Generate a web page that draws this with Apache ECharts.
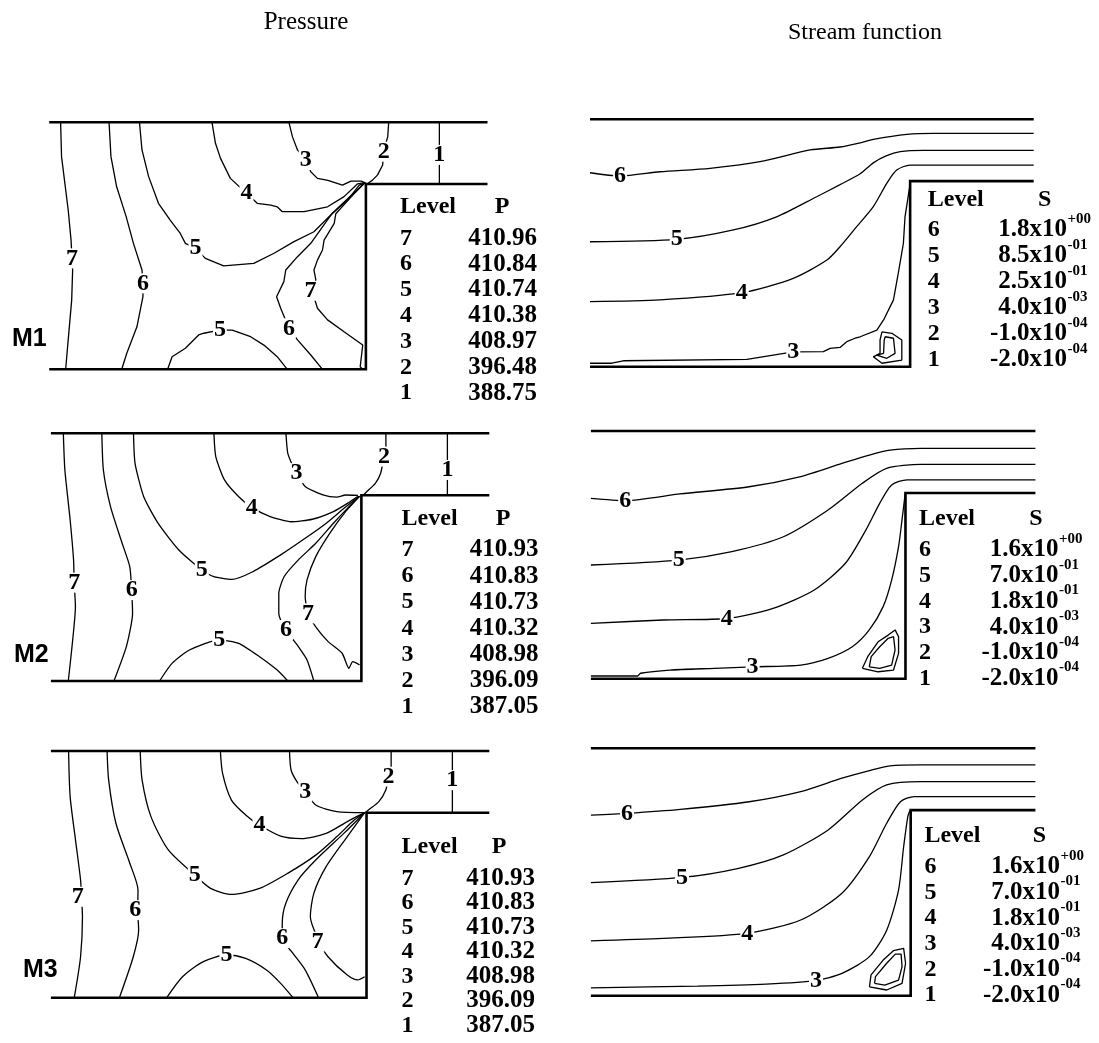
<!DOCTYPE html>
<html><head><meta charset="utf-8">
<script src="https://cdn.jsdelivr.net/npm/echarts@6/dist/echarts.min.js"></script>
<style>html,body{margin:0;padding:0;background:#fff}#c{width:1099px;height:1043px}</style>
</head><body><div id="c"></div>
<script>
// ---------- geometry (data units: inlet length = 100, inlet height = 100) ----------
const STEP_X = 100, STEP_Y = 75, TOP_Y = 100;
const P_XEND = [138.4, 141.2, 138.9];
const S_XEND = [138.6, 141.3, 139.0];

// ---------- Pressure, M1 ----------
const P1_c7a = [[3.6,100],[3.9,86.1],[6.0,64.5],[6.9,52.3],[7.2,44.9],[7.4,40.2],[7.1,28],[6.0,11.9],[5.2,0]];
const P1_c6a = [[18.9,100],[19.5,86.1],[21.3,73.9],[24.3,61.8],[26.6,51],[29.3,40.2],[29.6,34.8],[29.6,29.4],[27.7,17.2],[24.5,6.5],[22.9,0]];
const P1_c5a = [[28.5,100],[29.3,88.8],[31.4,78],[34.5,67.2],[38.2,60.4],[41.4,55],[43,51],[46.2,49],[49.3,44.9],[55.1,41.9],[64.6,42.9],[71,47],[77.3,51.7],[83.6,55.7],[88.9,62.5],[94.2,68.5],[97.9,74.6],[99.6,75.4]];
const P1_c4 = [[51.4,100],[52.5,91.5],[54.1,85.4],[57.2,77.3],[62.3,71.3],[65.7,67.2],[70,66.5],[72,65.8],[73.6,63.8],[80.5,63.8],[87.9,65.8],[93.1,69.9],[97.4,75.1],[99.6,75.6]];
const P1_c3 = [[75.7,100],[76.8,94.2],[78.4,88.8],[81,84.7],[82.6,80],[84.7,77.3],[88,76.5],[92.6,74.6],[95.3,76.2],[98.5,76.2],[100,75.4]];
const P1_c2 = [[107.2,100],[106.9,94.2],[105.6,88.1],[105.3,82.7],[103.7,78.7],[102.1,76.6],[101,75.6],[100.4,75]];
const P1_c1 = [[123.2,100],[123.2,75]];
const P1_c6b = [[99.6,75.4],[95,70],[89.4,63.2],[86.3,57.7],[82.6,51],[78.4,45.6],[74.7,40.2],[74.1,35.5],[71.8,29.4],[73.1,24.7],[75.7,16.6],[78.4,11.9],[82.6,5.8],[86.3,0]];
const P1_c7b = [[99.6,75.4],[95.5,70],[90.5,63],[90,59.1],[86.8,52.3],[86.3,48.3],[84.7,44.2],[83.6,40.2],[84.2,36.2],[83,31.8],[84.7,24.7],[87.9,20],[93.1,15.2],[99,9.8],[98.2,1],[99,0]];
const P1_c5b = [[37.4,0],[38.8,5.1],[43,8.5],[47.2,13.9],[48.8,14.6],[53.9,15.9],[57.8,15.9],[63.6,13.2],[67.8,9.8],[72,5.1],[75.2,0]];
const P1_labels = [[7.2,44.9,'7'],[29.6,34.8,'6'],[46.2,49,'5'],[62.3,71.3,'4'],[81,84.7,'3'],[105.6,88.1,'2'],[123.2,86.8,'1'],[82.5,31.8,'7'],[75.7,16.6,'6'],[53.9,15.9,'5']];

// ---------- Pressure, M2 ----------
const P2_c7a = [[4.0,100],[4.5,85.2],[6.2,65],[7.3,48.9],[7.5,39.7],[7.9,30],[6.8,13.9],[5.6,0]];
const P2_c6a = [[16.4,100],[16.9,85.2],[19.2,70.4],[22.6,56.9],[25.4,46.2],[26,36.7],[26.3,27.3],[24.3,13.9],[20.3,0]];
const P2_c5a = [[26.6,100],[27.1,87.9],[29.9,74.4],[34.5,63.7],[41.2,52.9],[48.6,44.8],[52.5,42.1],[58.2,41],[65,44.1],[74,50.9],[81.9,57.6],[88.7,63.7],[94.4,69.7],[97.7,73.1],[99.4,74.6]];
const P2_c4 = [[52.5,100],[53.1,90.6],[55.9,81.2],[60.5,74.4],[64.7,70.1],[70.6,66.4],[77.4,64.3],[84.2,65.3],[91,68.4],[95.5,71.7],[98.9,74.6]];
const P2_c3 = [[75.7,100],[76.3,91.9],[78,86.5],[79.1,83.9],[81.9,78.5],[87.6,75.1],[92.1,74.2],[94.9,75.1],[98.9,74.9]];
const P2_c2 = [[107.9,100],[107.9,94.6],[107.3,90.6],[106.2,83.9],[104.5,79.8],[101.7,76.4],[100.6,75]];
const P2_c1 = [[127.7,100],[127.7,75]];
const P2_c6b = [[99.4,74.6],[95.5,69.7],[91,63.7],[85.3,55.6],[79.7,48.9],[75.1,42.1],[73.4,35.4],[73.4,27.3],[75.7,20.6],[79.7,13.9],[82.5,8.5],[84.7,0]];
const P2_c7b = [[99.4,74.6],[94.9,68.4],[89.8,59.6],[85.3,50.2],[82.5,40.8],[81.9,34.1],[82.8,27.3],[85.3,21.9],[89.3,15.9],[93.8,11.2],[96,5.1],[97.2,7.8],[99.4,6.5]];
const P2_c5b = [[35,0],[39,7.1],[44.6,12.5],[54.2,16.6],[60.5,15.2],[67.2,9.8],[72.9,4.4],[76.3,0]];
const P2_labels = [[7.5,39.7,'7'],[26,36.7,'6'],[48.6,44.8,'5'],[64.7,70.1,'4'],[79.1,83.9,'3'],[107.3,90.6,'2'],[127.7,85.2,'1'],[82.8,27.3,'7'],[75.7,20.6,'6'],[54.2,16.6,'5']];

// ---------- Pressure, M3 ----------
const P3_c7a = [[5.6,100],[6.1,81.5],[7.8,63.9],[9.4,47.7],[9.7,40.9],[10,32.8],[9.4,16.6],[7.4,0]];
const P3_c6a = [[17.8,100],[18.3,88.2],[20.6,70.7],[25,54.5],[27.6,43.6],[27.5,35.5],[27.8,27.4],[26.1,16.6],[21.7,0]];
const P3_c5a = [[28.3,100],[28.9,88.2],[31.7,73.4],[37.2,59.9],[45.6,49.7],[50.6,44.3],[57.2,41.9],[66.1,44.3],[75,50.4],[83.9,57.8],[90.6,65.3],[96.1,72],[99.4,75]];
const P3_c4 = [[53.7,100],[54.4,90.9],[57.2,80.1],[61.7,74.1],[66.1,70],[72.8,65.5],[79.4,64.5],[87.2,66.6],[93.9,71.4],[99.4,75]];
const P3_c3 = [[75.6,100],[76.1,92.3],[78,87.5],[80.6,83.5],[83.9,78.1],[90.6,75.4],[99.4,75]];
const P3_c2 = [[107.8,100],[107.8,93.6],[107,89.6],[106.1,84.2],[103.9,79.5],[100.6,76.1],[99.6,75]];
const P3_c1 = [[127.2,100],[127.2,75]];
const P3_c6b = [[99.4,75],[92.8,66.6],[83.9,55.8],[78.3,47.7],[74.4,38.2],[73.3,30.1],[73.3,24.1],[76.7,18],[80.6,11.2],[84.8,0]];
const P3_c7b = [[99.4,75],[93.9,65.3],[87.2,53.1],[83.3,42.3],[82.2,32.8],[85,22.7],[87.8,16.6],[93.9,9.2],[97.2,7.2],[99.4,8.5]];
const P3_c5b = [[36.7,0],[41.7,8.5],[48.3,14.6],[55.6,17.3],[61.7,15.9],[68.3,11.2],[72.8,5.8],[76.7,0]];
const P3_labels = [[8.5,40.9,'7'],[26.7,35.5,'6'],[45.6,49.7,'5'],[66.1,70,'4'],[80.6,83.5,'3'],[107,89.6,'2'],[127.2,88.2,'1'],[84.5,22.7,'7'],[73.3,24.1,'6'],[55.6,17.3,'5']];

// ---------- Stream function, M1 ----------
const S1_c6 = [[0,78.4],[9.4,77.1],[21.9,78.8],[37.5,80.2],[53.1,82.9],[68.8,87.6],[78.1,88.8],[84.4,90.5],[88.5,91.9],[99,93.9],[107.3,94.3],[138.6,94.3]];
const S1_c5 = [[0,50.5],[27.1,51.5],[44.8,55.3],[58.3,60.6],[70.8,68.7],[78.1,73.6],[84.4,78],[88.5,82.4],[92.5,85.2],[96.9,86.9],[104.2,87.4],[138.6,87.4]];
const S1_c4 = [[0,26.3],[21.9,27],[47.4,29.9],[63.5,35.7],[74,43.1],[78.1,48.5],[83.3,56.6],[88.5,64.7],[92.7,74.1],[95.8,79.5],[100,81.5],[138.6,81.5]];
const S1_c3 = [[0,1.4],[6.8,1.4],[10.4,2.4],[49,3],[63.5,6],[72.9,6.1],[75,7.4],[78.1,7.8],[80.2,10.1],[82.8,11.5],[84.4,12.1],[89.6,14.8],[91.7,18.9],[94.8,27],[96.3,37.8],[97.9,49.9],[98.4,60.6],[99.3,68],[100,74]];
const S1_c2 = [[91.2,14.1],[94.3,13.5],[97.4,10.8],[97.4,2.7],[91.2,1.4],[88.5,4],[90.6,5.4],[90.6,10.8],[91.2,14.1]];
const S1_c1 = [[92.2,12.1],[94.8,11.5],[95.3,5.4],[92.7,3.4],[89.6,4.7],[91.7,5.4],[91.9,10.8],[92.2,12.1]];
const S1_labels = [[9.4,77.1,'6'],[27.1,51.5,'5'],[47.4,29.9,'4'],[63.5,6,'3']];

// ---------- Stream function, M2 ----------
const S2_c6 = [[0,72.8],[10.9,71.9],[28.4,74.6],[50.3,77.5],[66.7,81.6],[79.8,86.9],[88.5,90.3],[95.1,92.3],[104.9,93],[141.3,93]];
const S2_c5 = [[0,45.9],[27.9,47.9],[44.8,51.3],[61.2,57.3],[75.4,68.1],[86.3,78.9],[94,84.9],[104.9,86.5],[141.3,86.5]];
const S2_c4 = [[0,22.3],[23,23.7],[43.2,24.3],[57.9,28.4],[71,35.8],[80.9,46.6],[87.4,60],[91.8,70.8],[95.6,78.2],[100.5,80.3],[141.3,80.3]];
const S2_c3 = [[0,1.1],[14.8,1.1],[15.8,2.2],[25.1,3.5],[39.3,4.2],[51.4,4.8],[66.7,5.5],[75.4,8.2],[83.1,12.9],[88.5,19.7],[92.9,29.1],[95.6,39.8],[97.8,53.3],[98.9,64.1],[99.8,73.5],[100,75]];
const S2_c2 = [[86.3,4.2],[88,8.9],[91.3,14.9],[94.5,17.6],[96.7,19.7],[97.8,17],[97.8,10.2],[96.2,3.5],[91.3,2.8],[86.3,4.2]];
const S2_c1 = [[88.5,4.8],[89.1,8.9],[91.8,12.9],[94.5,16.3],[96.2,17],[96.7,11.6],[95.6,5.5],[91.8,4.2],[88.5,4.8]];
const S2_labels = [[10.9,71.9,'6'],[27.9,47.9,'5'],[43.2,24.3,'4'],[51.4,4.8,'3']];

// ---------- Stream function, M3 ----------
const S3_c6 = [[0,73],[11.3,73.7],[28,75.3],[49.5,78.4],[65.6,82.5],[78.5,87.9],[87.1,91],[93.5,92.9],[103.2,93.3],[139,93.3]];
const S3_c5 = [[0,45.7],[28.5,47.8],[46.2,51.5],[60.2,56.9],[74.2,67],[84.9,79.1],[92.5,85.2],[103.2,86.5],[139,86.5]];
const S3_c4 = [[0,22.2],[22.6,23.2],[48.9,25.2],[65.6,30.6],[78.5,41.4],[87.1,56.2],[92.5,69.7],[96.8,78.4],[101.1,80.5],[139,80.5]];
const S3_c3 = [[0,3.2],[33.3,3.9],[54.8,4.7],[70.4,6.1],[78.5,9],[87.1,15.8],[92.5,26.5],[96.2,42.7],[97.8,60.2],[99.1,72.4],[99.8,75]];
const S3_c2 = [[87.1,3.6],[87.6,8.4],[91.4,14.4],[94.6,18.2],[97.8,19.1],[98.4,13.1],[97.3,5],[92.5,2.3],[87.1,3.6]];
const S3_c1 = [[88.7,5],[89,7.7],[92.5,13.1],[95.2,16.8],[97,16.8],[97.3,11.7],[96.2,6.3],[91.9,4.3],[88.7,5]];
const S3_labels = [[11.3,73.7,'6'],[28.5,47.8,'5'],[48.9,25.2,'4'],[70.4,6.1,'3']];

// ---------- legend tables ----------
const P_LEVELS = ['7','6','5','4','3','2','1'];
const P1_VALUES = ['410.96','410.84','410.74','410.38','408.97','396.48','388.75'];
const P2_VALUES = ['410.93','410.83','410.73','410.32','408.98','396.09','387.05'];
const P3_VALUES = ['410.93','410.83','410.73','410.32','408.98','396.09','387.05'];
const S_LEVELS = ['6','5','4','3','2','1'];
const S1_MANT = ['1.8x10','8.5x10','2.5x10','4.0x10','-1.0x10','-2.0x10'];
const S1_EXP  = ['+00','-01','-01','-03','-04','-04'];
const S2_MANT = ['1.6x10','7.0x10','1.8x10','4.0x10','-1.0x10','-2.0x10'];
const S2_EXP  = ['+00','-01','-01','-03','-04','-04'];
const S3_MANT = ['1.6x10','7.0x10','1.8x10','4.0x10','-1.0x10','-2.0x10'];
const S3_EXP  = ['+00','-01','-01','-03','-04','-04'];
const ROW_NAMES = ['M1','M2','M3'];
const TITLES = ['Pressure','Stream function'];

// ---------- layout (pixels) ----------
const P_BOX = [{l:49.2,r:487.5,t:122.3,b:369.3},{l:50.9,r:489.3,t:433.3,b:681},{l:50.9,r:489.3,t:751,b:997.7}];
const S_BOX = [{l:590,r:1033.7,t:119.3,b:366.7},{l:590.9,r:1035.4,t:431,b:678.7},{l:590.9,r:1035.4,t:748.3,b:995.7}];
const P_LEG = [{x:400,hy:206.7,hx:502,y0:238.3,dy:25.8,vr:537},{x:401.6,hy:518.3,hx:503,y0:550,dy:26.1,vr:538.4},{x:401.6,hy:846.7,hx:499,y0:878.3,dy:24.5,vr:535}];
const S_LEG = [{x:927.8,hy:199.3,hx:1044.7,y0:230,dy:26,mr:1067},{x:919,hy:518.3,hx:1036,y0:550,dy:25.7,mr:1058.5},{x:924.4,hy:836,hx:1039.5,y0:866.7,dy:25.7,mr:1060}];
const ROW_LABEL_POS = [{x:12,y:339},{x:14,y:655},{x:23,y:970}];

const panels = [
  {box:P_BOX[0], xEnd:P_XEND[0], smooth:0, lines:[P1_c7a,P1_c6a,P1_c5a,P1_c4,P1_c3,P1_c2,P1_c1,P1_c6b,P1_c7b,P1_c5b], labels:P1_labels},
  {box:P_BOX[1], xEnd:P_XEND[1], smooth:0.2, lines:[P2_c7a,P2_c6a,P2_c5a,P2_c4,P2_c3,P2_c2,P2_c1,P2_c6b,P2_c7b,P2_c5b], labels:P2_labels},
  {box:P_BOX[2], xEnd:P_XEND[2], smooth:0.25, lines:[P3_c7a,P3_c6a,P3_c5a,P3_c4,P3_c3,P3_c2,P3_c1,P3_c6b,P3_c7b,P3_c5b], labels:P3_labels},
  {box:S_BOX[0], xEnd:S_XEND[0], smooth:0.25, lines:[S1_c6,S1_c5,S1_c4], sharp:[S1_c3,S1_c2,S1_c1], labels:S1_labels},
  {box:S_BOX[1], xEnd:S_XEND[1], smooth:0.25, lines:[S2_c6,S2_c5,S2_c4,S2_c3], sharp:[S2_c2,S2_c1], labels:S2_labels},
  {box:S_BOX[2], xEnd:S_XEND[2], smooth:0.25, lines:[S3_c6,S3_c5,S3_c4,S3_c3], sharp:[S3_c2,S3_c1], labels:S3_labels}
];

const LABEL_FONT = 'bold 24px "Liberation Serif"';
const grid = [], xAxis = [], yAxis = [], series = [];
panels.forEach((p, i) => {
  grid.push({left:p.box.l, top:p.box.t, width:p.box.r - p.box.l, height:p.box.b - p.box.t, containLabel:false});
  xAxis.push({type:'value', gridIndex:i, min:0, max:p.xEnd, show:false});
  yAxis.push({type:'value', gridIndex:i, min:0, max:TOP_Y, show:false});
  const base = {type:'line', xAxisIndex:i, yAxisIndex:i, symbol:'none', clip:false, silent:true, animation:false};
  series.push(Object.assign({}, base, {data:[[0,TOP_Y],[p.xEnd,TOP_Y]], lineStyle:{color:'#000', width:2.6}, z:4}));
  series.push(Object.assign({}, base, {data:[[0,0],[STEP_X,0],[STEP_X,STEP_Y],[p.xEnd,STEP_Y]], lineStyle:{color:'#000', width:2.6, join:'miter'}, z:4}));
  p.lines.forEach(d => series.push(Object.assign({}, base, {data:d, smooth:p.smooth, lineStyle:{color:'#000', width:1.3}, z:2})));
  (p.sharp||[]).forEach(d => series.push(Object.assign({}, base, {data:d, smooth:0, lineStyle:{color:'#000', width:1.3}, z:2})));
  const labs = p.labels;
  series.push({type:'custom', coordinateSystem:'cartesian2d', xAxisIndex:i, yAxisIndex:i, silent:true, animation:false, z:6,
    data: labs.map(r => [r[0], r[1]]),
    encode:{x:0, y:1},
    renderItem:(params, api) => {
      const pt = api.coord([api.value(0), api.value(1)]);
      return {type:'text', x:pt[0], y:pt[1],
        style:{text:labs[params.dataIndex][2], font:LABEL_FONT, fill:'#000',
          align:'center', textAlign:'center', verticalAlign:'middle', textVerticalAlign:'middle',
          backgroundColor:'#fff', padding:[-2,1,-2,1]}};
    }});
});

// ---------- text (titles, row names, tables) ----------
const graphic = [];
function txt(x, y, s, font, align) {
  graphic.push({type:'text', x:x, y:y, silent:true, z:10,
    style:{text:s, font:font, fill:'#000', align:align||'left', textAlign:align||'left', verticalAlign:'middle', textVerticalAlign:'middle'}});
}
const SERIF_B = 'bold 24px "Liberation Serif"';
txt(306, 22, TITLES[0], '25px "Liberation Serif"', 'center');
txt(865, 33, TITLES[1], '24px "Liberation Serif"', 'center');
ROW_NAMES.forEach((n, i) => txt(ROW_LABEL_POS[i].x, ROW_LABEL_POS[i].y, n, 'bold 25px "Liberation Sans"', 'left'));
const P_VALS = [P1_VALUES, P2_VALUES, P3_VALUES];
P_LEG.forEach((L, i) => {
  txt(L.x, L.hy, 'Level', SERIF_B, 'left');
  txt(L.hx, L.hy, 'P', SERIF_B, 'center');
  P_LEVELS.forEach((lv, k) => {
    txt(L.x, L.y0 + k * L.dy, lv, SERIF_B, 'left');
    txt(L.vr, L.y0 + k * L.dy, P_VALS[i][k], 'bold 25px "Liberation Serif"', 'right');
  });
});
const S_M = [S1_MANT, S2_MANT, S3_MANT], S_E = [S1_EXP, S2_EXP, S3_EXP];
S_LEG.forEach((L, i) => {
  txt(L.x, L.hy, 'Level', SERIF_B, 'left');
  txt(L.hx, L.hy, 'S', SERIF_B, 'center');
  S_LEVELS.forEach((lv, k) => {
    const y = L.y0 + k * L.dy;
    txt(L.x, y, lv, SERIF_B, 'left');
    txt(L.mr, y, S_M[i][k], 'bold 25px "Liberation Serif"', 'right');
    txt(L.mr + 0.5, y - 11, S_E[i][k], 'bold 15px "Liberation Serif"', 'left');
  });
});

const chart = echarts.init(document.getElementById('c'));
chart.setOption({animation:false, backgroundColor:'#fff', grid, xAxis, yAxis, series, graphic});
</script></body></html>
